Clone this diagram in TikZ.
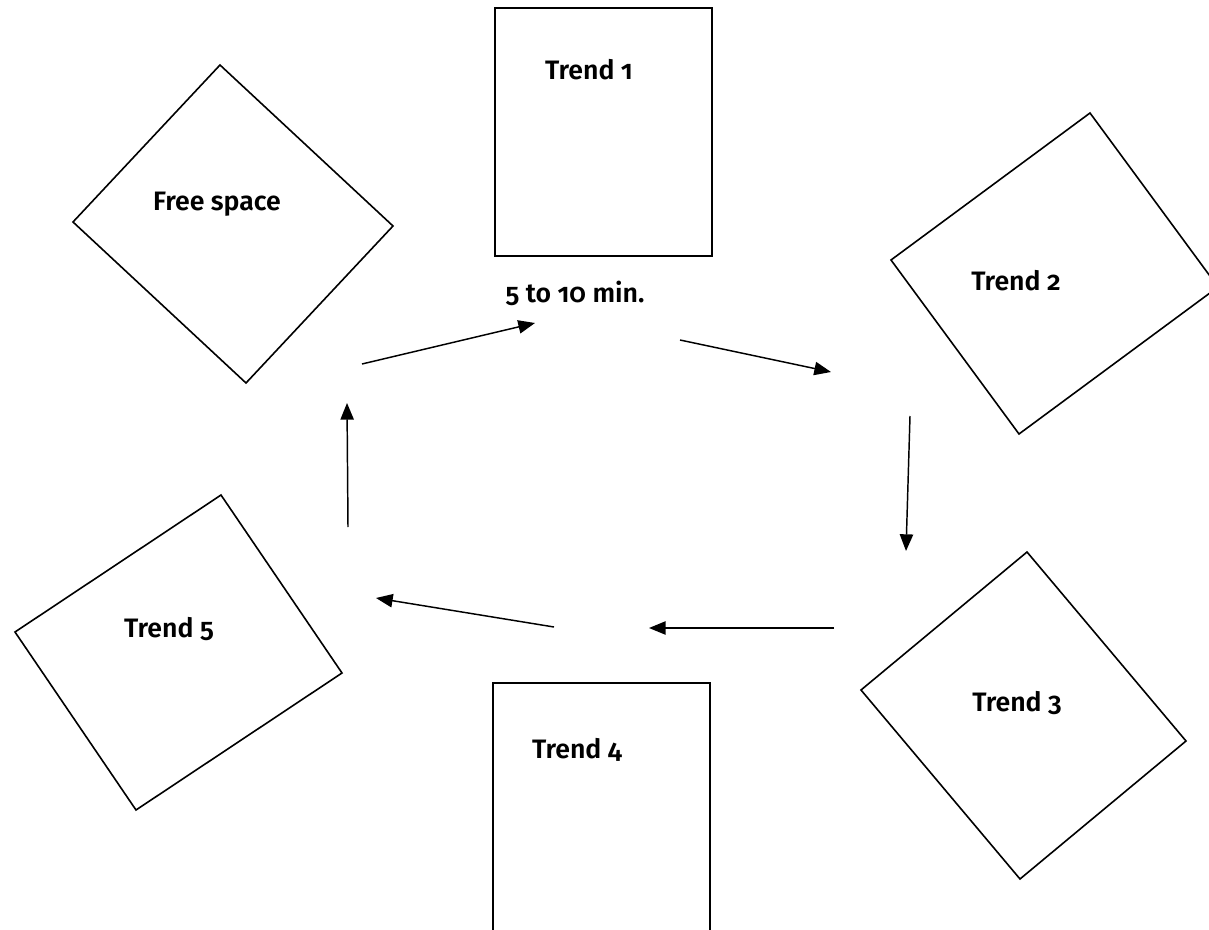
\documentclass[tikz,border=0pt]{standalone}
\usepackage{fontspec}
\setmainfont{Fira Sans}[Numbers=OldStyle, BoldFont={* SemiBold}]
\usetikzlibrary{arrows.meta}
\begin{document}
\begin{tikzpicture}[x=0.75pt,y=-0.75pt,
  shapebox/.style={draw=black, line width=1.2pt, line join=miter},
  flow/.style={draw=black, line width=1.1pt, -{Triangle[length=12.5pt,width=10pt]}},
  lbl/.style={font=\fontsize{20}{24}\selectfont\bfseries, inner sep=0pt}]
\useasboundingbox (0,0) rectangle (1209,930);
\clip (0,0) rectangle (1209,930);
\fill[white] (0,0) rectangle (1209,930);
% Trend 1
\draw[shapebox] (495,8) rectangle (712,256);
% Trend 4
\draw[shapebox] (493,945) -- (493,683) -- (710,683) -- (710,945);
% Free space
\draw[shapebox] (220,65) -- (393,226) -- (246,383) -- (73,222) -- cycle;
% Trend 2
\draw[shapebox] (1090,113) -- (1218,287) -- (1019,434) -- (891,260) -- cycle;
% Trend 3
\draw[shapebox] (1027,552) -- (1186,741) -- (1020,879) -- (861,690) -- cycle;
% Trend 5
\draw[shapebox] (221,495) -- (342,673) -- (136,810) -- (15,632) -- cycle;
% labels
\node[lbl] (t1) at (589,70) {Trend 1};
\node[lbl] (tm) at (575,293) {5 to 10 min.};
\node[lbl] (fs) at (217,204) {Free space};
\node[lbl] (t2) at (1016,281) {Trend 2};
\node[lbl] (t3) at (1017,703) {Trend 3};
\node[lbl] (t4) at (577,750) {Trend 4};
\node[lbl] (t5) at (169,629) {Trend 5};
% arrow endpoints
\coordinate (a1s) at (362,364); \coordinate (a1e) at (535,323);
\coordinate (a2s) at (680,340); \coordinate (a2e) at (831,372);
\coordinate (a3s) at (910,416); \coordinate (a3e) at (906,551);
\coordinate (a4s) at (834,628); \coordinate (a4e) at (649,628);
\coordinate (a5s) at (554,627); \coordinate (a5e) at (376,598);
\coordinate (a6s) at (348,527); \coordinate (a6e) at (347,403);
\draw[flow] (a1s) -- (a1e);
\draw[flow] (a2s) -- (a2e);
\draw[flow] (a3s) -- (a3e);
\draw[flow] (a4s) -- (a4e);
\draw[flow] (a5s) -- (a5e);
\draw[flow] (a6s) -- (a6e);
\end{tikzpicture}
\end{document}
